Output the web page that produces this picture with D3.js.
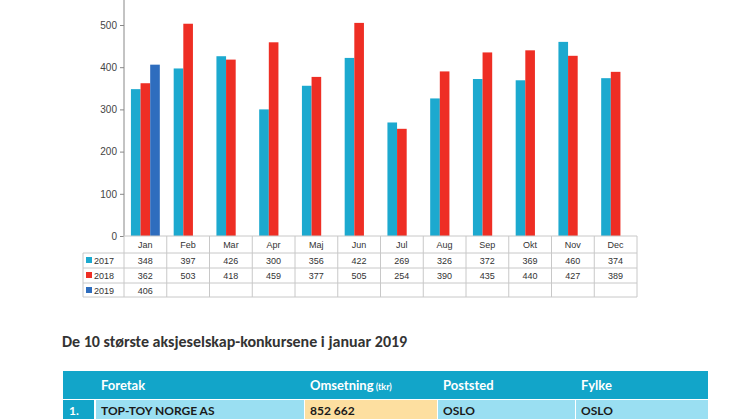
<!DOCTYPE html><html><head><meta charset="utf-8">
<script src="https://cdn.jsdelivr.net/npm/d3@7"></script>
<style>body{margin:0;background:#fff;font-family:Calibri,Carlito,"Open Sans",sans-serif}</style></head><body>
<svg id="c" width="746" height="419"></svg>
<script>
const months=["Jan","Feb","Mar","Apr","Maj","Jun","Jul","Aug","Sep","Okt","Nov","Dec"];
const seriesNames=["2017","2018","2019"];
const v2017=[348,397,426,300,356,422,269,326,372,369,460,374];
const v2018=[362,503,418,459,377,505,254,390,435,440,427,389];
const v2019=[406,null,null,null,null,null,null,null,null,null,null,null];
const colors=["#1CA9CF","#EE2E24","#2E6DBE"];
const yTicks=[0,100,200,300,400,500];
const tableHead=["Foretak","Omsetning","Poststed","Fylke"];
const row1=["1.","TOP-TOY NORGE AS","852 662","OSLO","OSLO"];
const series=[v2017,v2018,v2019];
const svg=d3.select("#c");
const font="Liberation Sans, Arial, sans-serif";
const x=d3.scaleBand().domain(months).range([124,637]);
const xs=d3.scaleBand().domain(seriesNames).range([0,x.bandwidth()]).paddingOuter(0.72).paddingInner(0);
const y=d3.scaleLinear().domain([0,500]).range([236,25]);
const ya=svg.append("g").attr("transform","translate(124,0)").call(d3.axisLeft(y).tickValues(yTicks).tickSize(4).tickSizeOuter(0));
ya.select(".domain").attr("d","M0,0V236").attr("stroke","#888");
ya.selectAll("line").attr("stroke","#888");
ya.selectAll("text").attr("font-family",font).attr("font-size",10).attr("fill","#444");
series.forEach((s,i)=>{
 svg.append("g").selectAll("rect").data(months.map((m,j)=>({m,v:s[j]})).filter(d=>d.v!=null)).join("rect")
  .attr("x",d=>x(d.m)+xs(seriesNames[i])).attr("width",xs.bandwidth())
  .attr("y",d=>y(d.v)).attr("height",d=>y(0)-y(d.v)).attr("fill",colors[i]);
});
// data table
const rows=[236,253,268,283,297];
const g=svg.append("g").attr("font-family",font).attr("font-size",9).attr("fill","#333");
const ln=(x1,y1,x2,y2)=>g.append("line").attr("x1",x1).attr("y1",y1).attr("x2",x2).attr("y2",y2).attr("stroke","#c8c8c8");
ln(124,236,637,236);
rows.slice(1).forEach(r=>ln(83,r,637,r));
ln(83,253,83,297);
months.forEach(m=>ln(x(m),236,x(m),297));
ln(637,236,637,297);
months.forEach(m=>g.append("text").attr("x",x(m)+x.bandwidth()/2).attr("y",248).attr("text-anchor","middle").text(m));
series.forEach((s,i)=>{
 const ry=rows[i+1]+11;
 g.append("rect").attr("x",86).attr("y",ry-7).attr("width",6).attr("height",6).attr("fill",colors[i]);
 g.append("text").attr("x",94).attr("y",ry).text(seriesNames[i]);
 s.forEach((v,j)=>{if(v!=null)g.append("text").attr("x",x(months[j])+x.bandwidth()/2).attr("y",ry).attr("text-anchor","middle").text(v);});
});
// heading
svg.append("text").attr("x",62).attr("y",347).attr("font-family","Carlito, Lato, sans-serif").attr("font-weight","bold").attr("font-size",16).attr("fill","#333").text("De 10 største aksjeselskap-konkursene i januar 2019");
// table
const cols=[63,95,304,437,575,708];
svg.append("rect").attr("x",63).attr("y",371).attr("width",645).attr("height",28).attr("fill","#12A5C9");
const tf="Lato, sans-serif";
tableHead.forEach((h,i)=>{
 const t=svg.append("text").attr("x",cols[i+1]+6).attr("y",390).attr("font-family",tf).attr("font-weight","bold").attr("font-size",13).attr("fill","#fff").text(h);
 if(i==1)t.append("tspan").attr("font-size",9).text(" (tkr)");
});
const fills=["#12A5C9","#9ADFF2","#FDDFA0","#9ADFF2","#9ADFF2"];
row1.forEach((c,i)=>{
 svg.append("rect").attr("x",cols[i]+(i?1:0)).attr("y",400).attr("width",cols[i+1]-cols[i]-1).attr("height",19).attr("fill",fills[i]);
 svg.append("text").attr("x",cols[i]+6).attr("y",415).attr("font-family",tf).attr("font-weight","bold").attr("font-size",12).attr("fill",i?"#1a1a1a":"#fff").text(c);
});
</script></body></html>
